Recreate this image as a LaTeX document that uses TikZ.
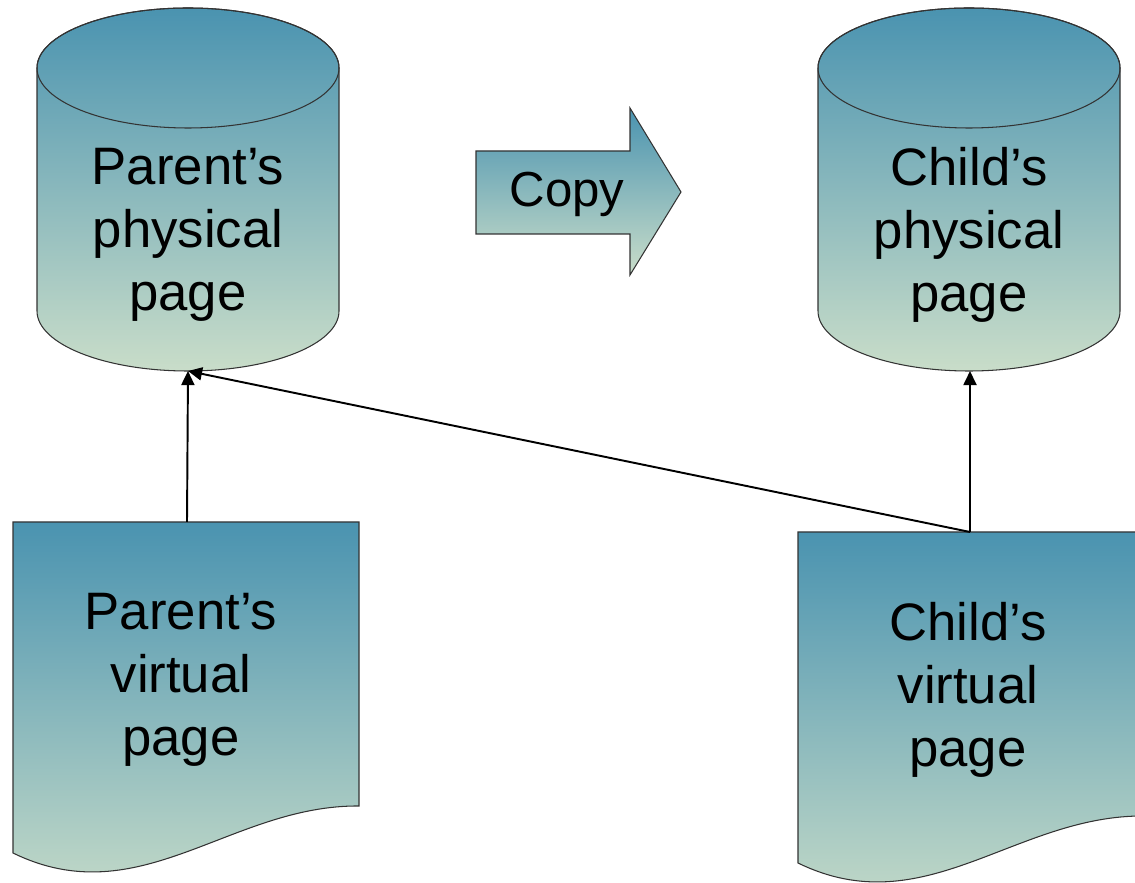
\documentclass[tikz,border=0pt]{standalone}
\usepackage{fontspec}
\setmainfont{Liberation Sans}
\usetikzlibrary{arrows.meta,calc}
\definecolor{pagetop}{HTML}{4A93B0}
\definecolor{pagemid}{HTML}{96BDBF}
\definecolor{pagebot}{HTML}{C9DDC9}
\tikzstyle{line} = [draw, -{Triangle[length=8pt, width=7.4pt]}, line width=1.1pt]
\tikzstyle{pageshade} = [draw=black!80, line width=0.6pt, top color=pagetop, middle color=pagemid, bottom color=pagebot]
\tikzstyle{pagetext} = [align=center, inner sep=0pt, font=\fontsize{30}{36}\selectfont]

\begin{document}
\begin{tikzpicture}[x=0.02cm, y=0.02cm]
    \useasboundingbox (0,0) rectangle (1135,882);
    % physical pages
    \path[pageshade] (37,814) -- (37,571) arc[start angle=180, end angle=360, x radius=151, y radius=60] -- (339,814) arc[start angle=0, end angle=180, x radius=151, y radius=60] -- cycle;
    \draw[black!80, line width=0.6pt] (188,814) ellipse [x radius=151, y radius=60];
    \path[pageshade] (818,814) -- (818,571) arc[start angle=180, end angle=360, x radius=151, y radius=60] -- (1120,814) arc[start angle=0, end angle=180, x radius=151, y radius=60] -- cycle;
    \draw[black!80, line width=0.6pt] (969,814) ellipse [x radius=151, y radius=60];
    % virtual pages
    \path[pageshade] (13,360) -- (13,29) .. controls (140,-33) and (230,77) .. (359,76) -- (359,360) -- cycle;
    \path[pageshade] (798,350) -- (798,19) .. controls (925,-43) and (1015,67) .. (1144,66) -- (1144,350) -- cycle;
    % copy arrow
    \path[pageshade] (476,731) -- (630,731) -- (630,774) -- (681,690) -- (630,607) -- (630,648) -- (476,648) -- cycle;

    \node[pagetext] (ppage) at (188,647) {Parent’s\\physical\\page};
    \node[pagetext] (cpage) at (969,647) {Child’s\\physical\\page};
    \node[pagetext, font=\fontsize{28}{34}\selectfont] (copy) at (567,688) {Copy};
    \node[pagetext] (pvirt) at (181,202) {Parent’s\\virtual\\page};
    \node[pagetext] (cvirt) at (968,192) {Child’s\\virtual\\page};

    \coordinate (pvtop) at (187,360);
    \coordinate (cvtop) at (970,350);
    \coordinate (ppbot) at (188,511);
    \coordinate (cpbot) at (970,511);
    \path[line] (pvtop) -- (ppbot);
    \path[line] (cvtop) -- (ppbot);
    \path[line] (cvtop) -- (cpbot);
\end{tikzpicture}
\end{document}
